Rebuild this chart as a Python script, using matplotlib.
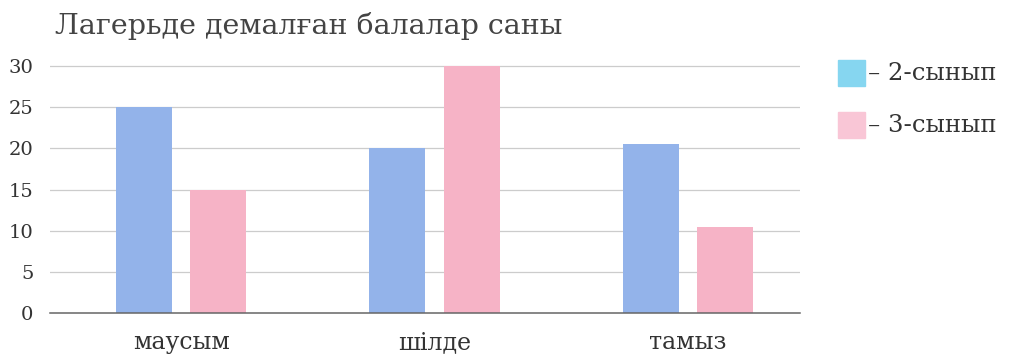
import numpy as np
import matplotlib.pyplot as plt
from matplotlib.patches import Rectangle

plt.rcParams['font.family'] = ['DejaVu Serif']

months = ['маусым', 'шілде', 'тамыз']
grade2 = [25, 20, 20.5]
grade3 = [15, 30, 10.5]
yticks = [0, 5, 10, 15, 20, 25, 30]
series_labels = ['– 2-сынып', '– 3-сынып']

bar_blue = '#93b3ea'
bar_pink = '#f6b3c6'
key_blue = '#86d6f0'
key_pink = '#f9c6d6'

fig = plt.figure(figsize=(10.13, 3.57), dpi=100)
ax = fig.add_axes([0.0494, 0.1232, 0.740, 0.7149])

x = np.arange(len(months))
w = 0.22
ax.bar(x - 0.147, grade2, width=w, color=bar_blue, zorder=2)
ax.bar(x + 0.147, grade3, width=w, color=bar_pink, zorder=2)

ax.set_xlim(-0.517, 2.44)
ax.set_ylim(0, 31)
ax.set_yticks(yticks)
ax.set_yticklabels([str(t) for t in yticks], fontsize=14, color='#333333')
ax.set_xticks(x)
ax.set_xticklabels(months, fontsize=17, color='#333333')
ax.tick_params(length=0)
ax.tick_params(axis='y', pad=12)
ax.tick_params(axis='x', pad=13)

# horizontal guide lines, baseline darker
for t in yticks:
    if t == 0:
        ax.axhline(t, color='#666666', lw=1.1, zorder=3, clip_on=False)
    else:
        ax.axhline(t, color='#cccccc', lw=0.9, zorder=1)

for s in ax.spines.values():
    s.set_visible(False)

fig.text(0.054, 0.905, 'Лагерьде демалған балалар саны', fontsize=20.5,
         color='#444444', va='baseline')

# key on the right
for i, (lbl, c) in enumerate(zip(series_labels, [key_blue, key_pink])):
    yb = (357 - 86 - i * 52) / 357
    fig.add_artist(Rectangle((838 / 1013, yb), 27 / 1013, 26 / 357,
                             transform=fig.transFigure, color=c))
    fig.text(868 / 1013, yb + 13 / 357, lbl, fontsize=17.5, color='#333333',
             va='center')

fig.savefig('out.png')
